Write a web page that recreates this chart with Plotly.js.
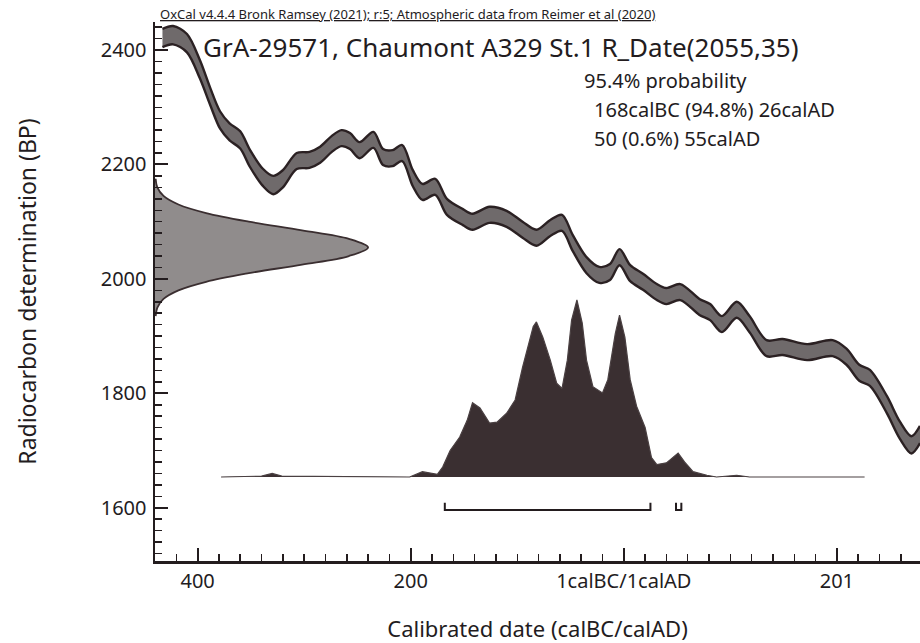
<!DOCTYPE html>
<html>
<head>
<meta charset="utf-8">
<script src="https://cdn.plot.ly/plotly-3.0.1.min.js"></script>
<style>html,body{margin:0;padding:0;background:#fff}#chart{width:920px;height:643px}</style>
</head>
<body>
<div id="chart"></div>
<script>
// Calibration curve (IntCal20): calendar year (astronomical, BC negative), BP, 1-sigma
const calYear = [-432,-422,-409,-397,-387,-378,-369,-359,-350,-338,-328,-319,-306,-294,-284,-273,-264,-256,-247,-234,-225,-216,-207,-197,-188,-176,-165,-150,-141,-125,-109,-94,-81,-68,-57,-47,-34,-22,-12,-3,7,19,32,41,54,72,82,93,107,119,135,150,173,197,210,222,232,248,260,271,279];
const calBP   = [2421,2426,2412,2367,2318,2278,2257,2243,2211,2178,2164,2175,2206,2208,2217,2236,2246,2241,2225,2243,2213,2211,2220,2176,2152,2161,2126,2108,2100,2112,2105,2086,2072,2089,2098,2063,2024,2007,2012,2038,2010,1995,1977,1970,1977,1951,1942,1921,1946,1921,1879,1881,1872,1879,1864,1836,1827,1780,1736,1710,1728];
const calSigma= [16,16,16,16,15,15,15,15,15,15,16,15,14,14,14,14,14,14,14,14,14,14,14,14,14,14,14,14,14,14,14,14,14,14,14,14,14,14,14,14,14,14,14,14,14,14,14,14,14,14,14,14,14,14,14,14,14,15,15,15,15];

// Radiocarbon measurement R_Date(2055,35): BP vs relative probability
const c14BP   = [1935,1950,1965,1980,1995,2010,2025,2040,2055,2070,2085,2100,2115,2130,2145,2160,2175];
const c14Prob = [0.003,0.011,0.04,0.11,0.24,0.44,0.69,0.91,1.0,0.91,0.69,0.44,0.24,0.11,0.04,0.011,0.003];

// Calibrated probability distribution: calendar year vs relative probability
const postYear = [-377,-339,-329,-320,-200,-188,-174,-169,-162,-153,-146,-141,-134,-125,-118,-109,-101,-94,-84,-81,-75,-68,-62,-57,-52,-48,-43,-38,-34,-28,-19,-14,-7,-3,2,7,13,21,27,32,41,52,58,66,79,88,107,119,227];
const postProb = [0,0.005,0.02,0.005,0,0.03,0.015,0.056,0.15,0.226,0.32,0.42,0.39,0.305,0.31,0.36,0.435,0.62,0.85,0.876,0.79,0.66,0.53,0.50,0.66,0.887,1.0,0.87,0.66,0.51,0.475,0.55,0.81,0.915,0.79,0.55,0.40,0.28,0.11,0.07,0.08,0.135,0.085,0.03,0.01,0,0.01,0,0];

// 95.4% ranges
const rangeStart = [-167, 50];
const rangeEnd   = [26, 55];

// Axis ticks
const xTickVals = [-399, -199, 1, 201];
const xTickText = ['400', '200', '1calBC/1calAD', '201'];
const yTickVals = [1600, 1800, 2000, 2200, 2400];
const yTickText = ['1600', '1800', '2000', '2200', '2400'];

const titleText = 'GrA-29571, Chaumont A329 St.1 R_Date(2055,35)';
const headerText = 'OxCal v4.4.4 Bronk Ramsey (2021); r:5; Atmospheric data from Reimer et al (2020)';
const probLines = ['95.4% probability', '168calBC (94.8%) 26calAD', '50 (0.6%) 55calAD'];

const FONT = 'Noto Sans, sans-serif';
const INK = '#231c1e';

const upper = calBP.map((v, i) => v + calSigma[i]);
const lower = calBP.map((v, i) => v - calSigma[i]);

const barLow = 1596, barHigh = 1609;
const barX = [], barY = [];
rangeStart.forEach((s, i) => {
  barX.push(s, s, rangeEnd[i], rangeEnd[i], null);
  barY.push(barHigh, barLow, barLow, barHigh, null);
});

const traces = [
  { x: c14Prob, y: c14BP, xaxis: 'x2', yaxis: 'y', type: 'scatter', mode: 'lines',
    fill: 'tozerox', fillcolor: '#908c8c', line: { color: '#3a2e30', width: 1.8, shape: 'spline' }, hoverinfo: 'skip' },
  { x: postYear, y: postProb, xaxis: 'x', yaxis: 'y2', type: 'scatter', mode: 'lines',
    fill: 'tozeroy', fillcolor: '#3a2f31', line: { color: '#4a4042', width: 1.2 }, hoverinfo: 'skip' },
  { x: calYear, y: upper, type: 'scatter', mode: 'lines', line: { color: '#2b2123', width: 2.4, shape: 'spline', smoothing: 0.9 }, hoverinfo: 'skip' },
  { x: calYear, y: lower, type: 'scatter', mode: 'lines', fill: 'tonexty', fillcolor: '#6f6a6b',
    line: { color: '#2b2123', width: 2.4, shape: 'spline', smoothing: 0.9 }, hoverinfo: 'skip' },
  { x: barX, y: barY, type: 'scatter', mode: 'lines', line: { color: INK, width: 2 }, hoverinfo: 'skip' }
];

const annFont = { family: FONT, size: 20, color: INK };
const layout = {
  width: 920, height: 643,
  margin: { l: 155, r: 0, t: 22, b: 82 },
  paper_bgcolor: '#ffffff', plot_bgcolor: '#ffffff',
  showlegend: false,
  font: { family: FONT, color: INK },
  xaxis: {
    range: [-439, 279], tickmode: 'array', tickvals: xTickVals, ticktext: xTickText,
    ticks: 'inside', ticklen: 13, tickwidth: 2, tickcolor: INK,
    showline: true, linewidth: 2.5, linecolor: INK, showgrid: false, zeroline: false,
    tickfont: { family: FONT, size: 20, color: INK },
    minor: { tickmode: 'linear', tick0: 1, dtick: 20, ticks: 'inside', ticklen: 7, tickwidth: 1.5, tickcolor: INK, showgrid: false },
    title: { text: 'Calibrated date (calBC/calAD)', font: { family: FONT, size: 22, color: INK }, standoff: 30 }
  },
  xaxis2: { overlaying: 'x', range: [0, 3.59], visible: false, anchor: 'y' },
  yaxis: {
    range: [1507, 2449], tickmode: 'array', tickvals: yTickVals, ticktext: yTickText,
    ticks: 'inside', ticklen: 13, tickwidth: 2, tickcolor: INK,
    showline: true, linewidth: 2.5, linecolor: INK, showgrid: false, zeroline: false,
    tickfont: { family: FONT, size: 20, color: INK }, ticklabelstandoff: 2,
    minor: { tickmode: 'linear', tick0: 0, dtick: 20, ticks: 'inside', ticklen: 7, tickwidth: 1.5, tickcolor: INK, showgrid: false },
    title: { text: 'Radiocarbon determination (BP)', font: { family: FONT, size: 23, color: INK }, standoff: 58 }
  },
  yaxis2: { overlaying: 'y', range: [-0.4746, 2.5706], visible: false, anchor: 'x' },
  annotations: [
    { xref: 'paper', yref: 'paper', x: 0.004, y: 1 + 8 / 539, xanchor: 'left', yanchor: 'middle',
      text: '<u>' + headerText + '</u>', showarrow: false, font: { family: FONT, size: 13, color: INK } },
    { xref: 'paper', yref: 'paper', x: (201 - 155) / 765, y: 1 - (47 - 22) / 539, xanchor: 'left', yanchor: 'middle',
      text: titleText, showarrow: false, font: { family: FONT, size: 26, color: INK } },
    { xref: 'paper', yref: 'paper', x: (582 - 155) / 765, y: 1 - (80 - 22) / 539, xanchor: 'left', yanchor: 'middle',
      text: probLines[0], showarrow: false, font: annFont },
    { xref: 'paper', yref: 'paper', x: (592 - 155) / 765, y: 1 - (109 - 22) / 539, xanchor: 'left', yanchor: 'middle',
      text: probLines[1], showarrow: false, font: annFont },
    { xref: 'paper', yref: 'paper', x: (592 - 155) / 765, y: 1 - (138 - 22) / 539, xanchor: 'left', yanchor: 'middle',
      text: probLines[2], showarrow: false, font: annFont }
  ]
};

Plotly.newPlot('chart', traces, layout, { staticPlot: true, displayModeBar: false });
</script>
</body>
</html>
